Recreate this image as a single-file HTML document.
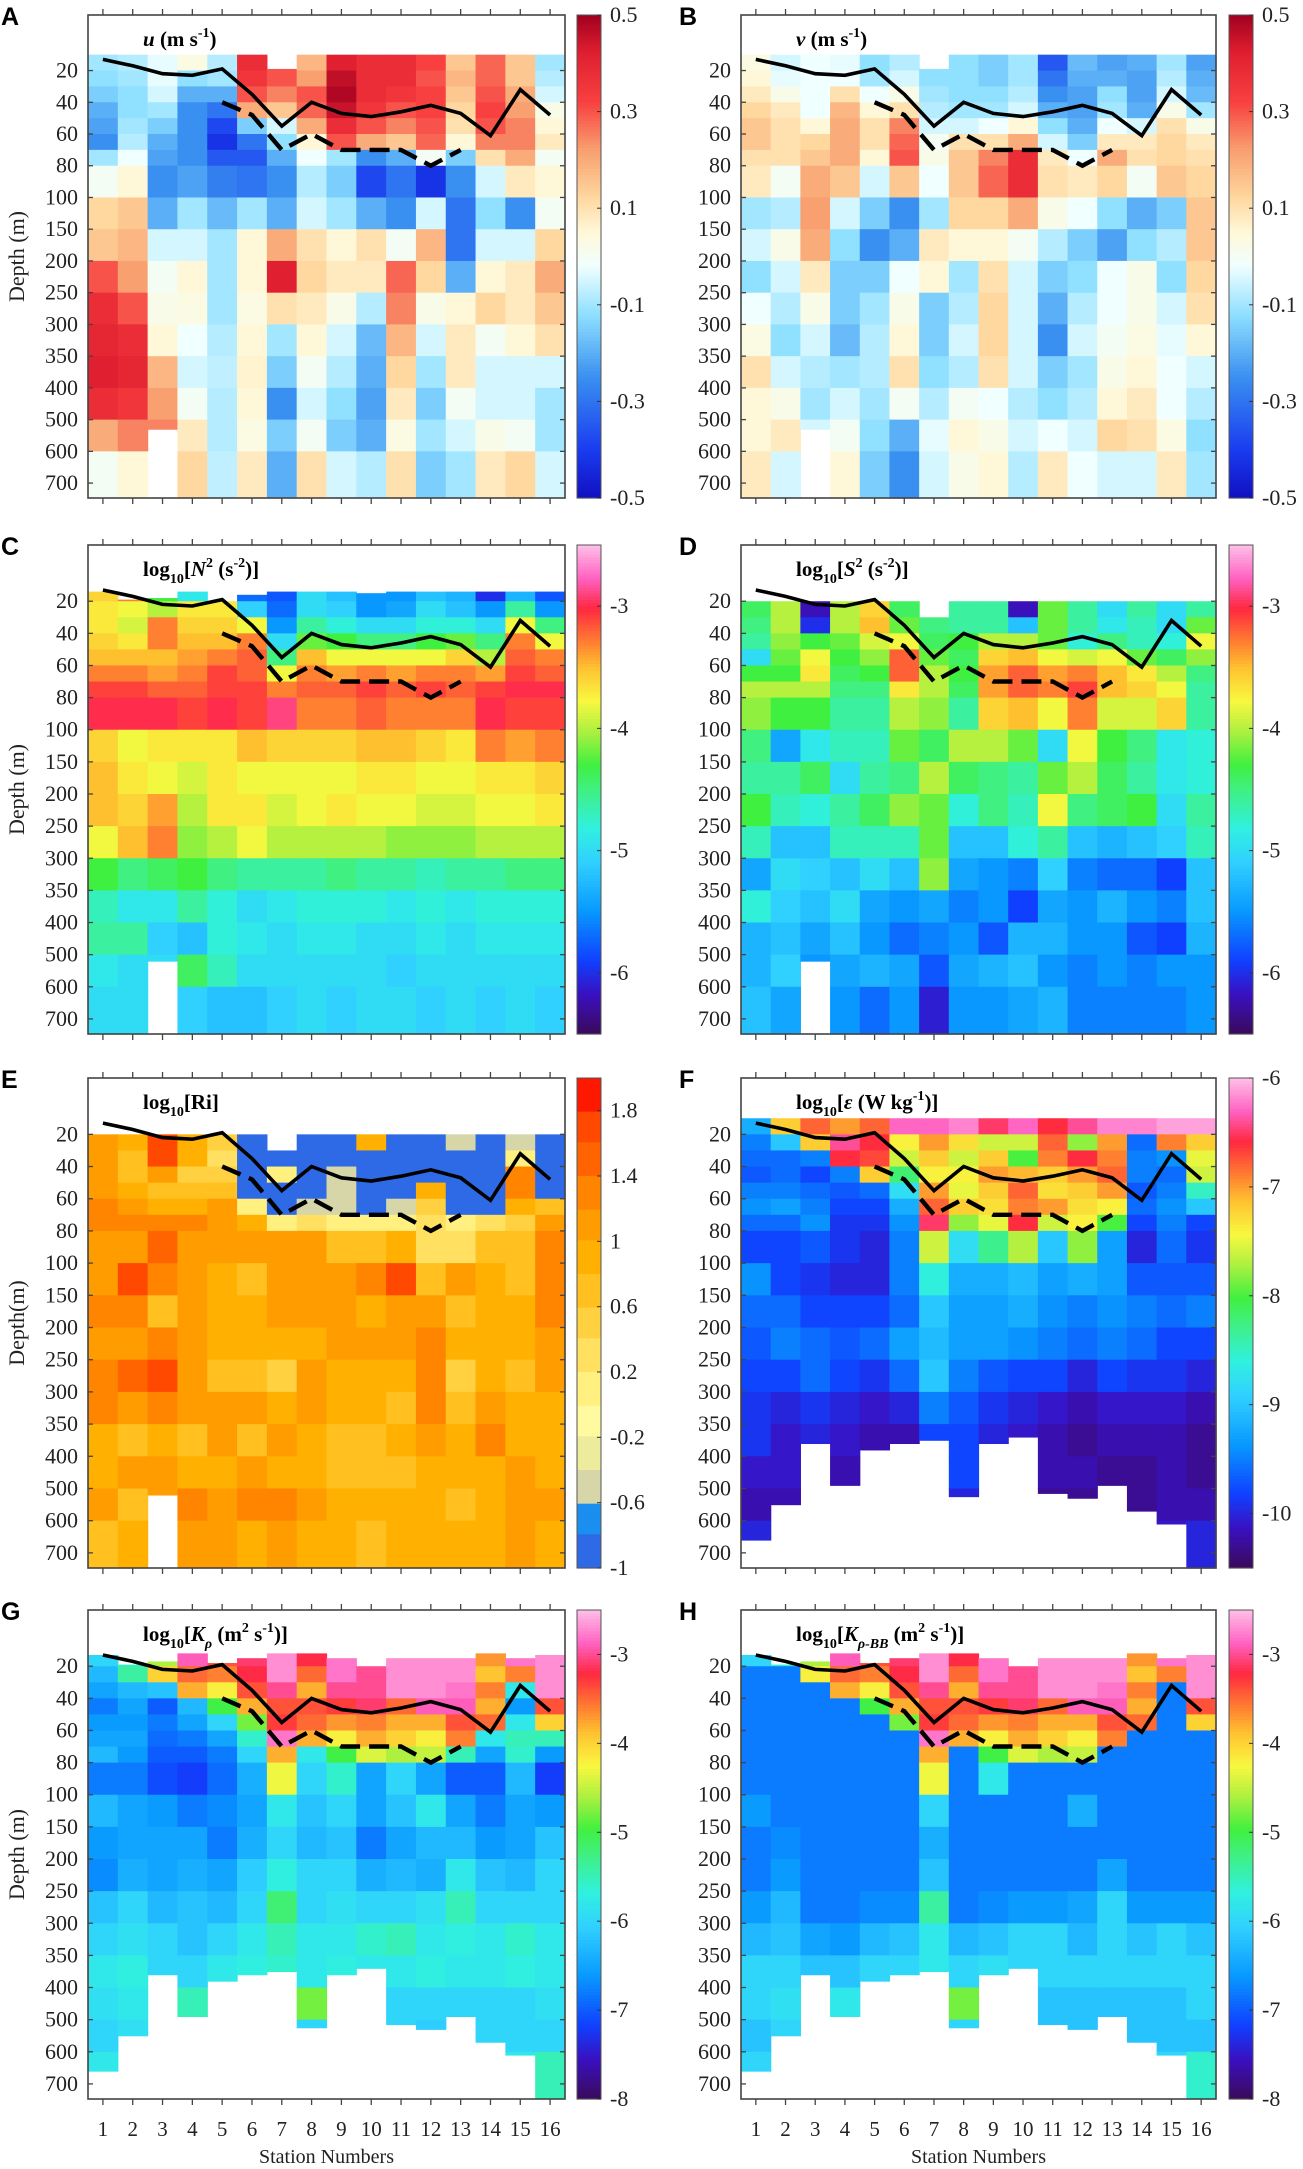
<!DOCTYPE html>
<html><head><meta charset="utf-8"><title>Station sections</title>
<style>html,body{margin:0;padding:0;background:#fff}svg{display:block}</style></head>
<body>
<svg id="fig" xmlns="http://www.w3.org/2000/svg" width="1303" height="2169" viewBox="0 0 1303 2169" font-family="'Liberation Serif', serif"></svg>
<script>
// ---------- data ----------
const stations = [1,2,3,4,5,6,7,8,9,10,11,12,13,14,15,16];
const depthLabels = [20,40,60,80,100,150,200,250,300,350,400,500,600,700];
const depthEdges = [10,20,30,40,50,60,70,80,100,150,200,250,300,350,400,500,600,747];
const mldDepth = [13,17,22,23,19,35,55,40,47,49,46,42,47,61,32,48];
const dashStations = [5,6,7,8,9,10,11,12,13];
const dashDepth = [40,48,70,60,70,70,70,80,70];

const topAB = [10,10,10,10,10,10,19,10,10,10,10,10,10,10,10,10];
const bottomAB = [747,747,530,747,747,747,747,747,747,747,747,747,747,747,747,747];
const topC = [14,19,18,14,20,16,14,14,14,15,14,14,14,14,14,14];
const topD = [20,20,20,20,20,20,29,20,20,20,20,20,20,20,20,20];
const topE = [20,20,20,20,20,20,30,20,20,20,20,20,20,20,20,20];
const bottomCDE = [747,747,520,747,747,747,747,747,747,747,747,747,747,747,747,747];
const topF = [10,10,10,10,10,10,10,10,10,10,10,10,10,10,10,10];
const topGH = [13,19,17,12,18,15,12,12,15,20,15,15,15,12,15,13];
const bottomFGH = [660,550,380,490,390,380,375,525,380,370,515,530,490,570,610,747];

const uData = [
[-0.1,-0.12,-0.15,-0.2,-0.22,-0.25,-0.1,0.0,0.12,0.15,0.3,0.38,0.4,0.42,0.38,0.2,0.0],
[-0.08,-0.1,-0.12,-0.12,-0.1,-0.08,-0.02,0.05,0.15,0.18,0.22,0.3,0.38,0.4,0.35,0.25,0.05],
[-0.03,-0.03,-0.05,-0.1,-0.15,-0.2,-0.22,-0.25,-0.2,-0.05,0.0,0.02,0.05,0.18,0.22,0.25,null],
[0.03,-0.12,-0.2,-0.25,-0.25,-0.25,-0.25,-0.22,-0.1,-0.05,0.05,0.03,-0.02,-0.05,0.0,0.08,0.12],
[-0.08,-0.1,-0.2,-0.3,-0.38,-0.42,-0.35,-0.28,-0.18,-0.1,-0.1,-0.1,-0.08,-0.07,-0.08,-0.08,-0.07],
[0.38,0.35,0.3,0.2,-0.15,-0.3,-0.35,-0.3,-0.1,0.05,0.05,0.03,0.05,0.06,0.05,0.03,0.08],
[0.3,0.3,0.25,0.15,-0.05,-0.12,-0.2,-0.25,-0.2,0.2,0.42,0.1,-0.1,-0.15,-0.25,-0.15,-0.2],
[0.18,0.22,0.3,0.28,0.2,0.05,-0.02,-0.08,-0.05,0.1,0.12,0.08,0.05,0.0,-0.05,0.0,0.1],
[0.42,0.46,0.48,0.45,0.38,0.3,-0.1,-0.15,-0.1,0.05,0.08,0.02,-0.05,-0.08,-0.12,-0.15,-0.05],
[0.38,0.38,0.38,0.35,0.3,0.2,-0.25,-0.38,-0.2,0.1,0.08,-0.08,-0.18,-0.2,-0.22,-0.2,-0.08],
[0.38,0.38,0.35,0.3,0.25,0.15,-0.2,-0.3,-0.25,0.0,0.28,0.25,0.18,0.12,0.08,0.03,0.1],
[0.32,0.3,0.32,0.32,0.3,0.28,0.0,-0.42,-0.05,0.18,0.12,0.02,-0.05,-0.1,-0.15,-0.1,-0.15],
[0.15,0.18,0.15,0.12,0.1,0.05,-0.15,-0.25,-0.3,-0.3,-0.2,0.05,0.08,0.08,0.0,-0.05,-0.1],
[0.28,0.28,0.3,0.32,0.3,0.25,0.1,-0.05,-0.12,-0.05,0.05,0.12,0.0,-0.05,-0.05,0.02,0.08],
[0.15,0.15,0.2,0.22,0.25,0.25,0.2,0.08,-0.25,-0.05,0.08,0.08,0.05,-0.05,-0.05,0.0,0.12],
[-0.1,-0.08,-0.05,0.02,0.05,0.08,0.0,0.05,0.0,0.12,0.2,0.15,0.1,-0.05,-0.1,-0.1,-0.05]];

const vData = [
[0.03,0.05,0.08,0.12,0.15,0.15,0.1,0.08,-0.1,-0.05,-0.12,-0.02,0.03,0.1,0.05,0.05,0.08],
[-0.05,-0.03,0.02,0.08,0.1,0.1,0.1,0.0,-0.08,0.02,-0.05,-0.08,-0.12,-0.05,0.02,0.08,-0.05],
[-0.02,-0.02,-0.02,-0.02,0.05,0.12,0.15,0.2,0.22,0.2,0.08,0.02,-0.05,-0.08,-0.1,-0.05,null],
[-0.03,-0.02,0.1,0.18,0.2,0.2,0.2,0.15,-0.05,-0.12,-0.15,-0.15,-0.18,-0.1,-0.05,0.0,0.05],
[-0.12,-0.1,-0.02,0.05,0.1,0.1,0.05,-0.05,-0.15,-0.25,-0.15,-0.1,-0.08,-0.08,-0.1,-0.12,-0.15],
[-0.08,-0.05,0.02,0.1,0.25,0.28,0.3,0.15,-0.25,-0.2,-0.02,0.02,0.05,0.1,0.0,-0.2,-0.25],
[-0.12,-0.12,-0.1,-0.08,-0.05,0.0,0.02,-0.02,-0.1,0.08,0.05,-0.15,-0.15,-0.12,-0.08,-0.03,-0.05],
[-0.12,-0.12,-0.12,-0.1,-0.05,0.1,0.15,0.15,0.12,0.05,-0.1,-0.08,-0.05,-0.08,0.0,0.05,0.02],
[-0.15,-0.15,-0.12,-0.1,-0.02,0.1,0.25,0.28,0.12,0.05,0.1,0.12,0.12,0.1,-0.02,0.02,0.05],
[-0.1,-0.1,-0.08,-0.05,0.05,0.2,0.38,0.38,0.2,0.0,-0.05,-0.05,-0.05,-0.05,-0.08,-0.05,-0.08],
[-0.35,-0.3,-0.25,-0.2,-0.12,-0.05,0.08,0.1,0.02,-0.08,-0.15,-0.2,-0.25,-0.15,-0.12,-0.02,0.08],
[-0.18,-0.2,-0.22,-0.22,-0.2,-0.15,-0.02,0.08,-0.02,-0.15,-0.12,-0.08,-0.05,-0.1,-0.08,-0.05,-0.02],
[-0.22,-0.2,-0.12,-0.1,-0.02,0.08,0.2,0.12,-0.12,-0.22,-0.02,-0.02,0.0,0.02,0.05,0.12,-0.05],
[-0.2,-0.22,-0.22,-0.2,-0.05,0.08,0.1,0.0,-0.2,-0.12,0.02,0.02,0.03,0.05,0.08,0.1,-0.05],
[-0.1,-0.08,-0.05,0.02,0.1,0.12,0.12,0.15,-0.15,-0.08,-0.12,-0.05,-0.03,-0.02,-0.02,0.03,0.08],
[-0.22,-0.2,-0.18,-0.1,0.02,0.08,0.1,0.12,0.15,0.15,0.12,0.1,0.05,-0.05,-0.08,-0.12,-0.1]];

const n2Data = [
[-3.6,-3.7,-3.7,-3.6,-3.5,-3.3,-3.1,-3.0,-3.6,-3.5,-3.5,-3.8,-4.3,-4.7,-4.6,-4.9,-5.0],
[-3.3,-3.8,-3.9,-3.7,-3.5,-3.3,-3.1,-3.0,-3.8,-3.7,-3.6,-3.5,-4.5,-4.9,-4.6,-5.0,-5.0],
[-4.3,-4.0,-3.3,-3.3,-3.5,-3.4,-3.2,-3.0,-3.7,-3.8,-3.4,-3.3,-4.4,-4.9,-5.1,-5.0,null],
[-4.9,-3.7,-3.6,-3.5,-3.4,-3.3,-3.2,-3.1,-3.7,-3.9,-4.0,-4.1,-4.3,-4.6,-5.2,-4.4,-5.1],
[-3.6,-3.7,-3.6,-3.5,-3.3,-3.1,-3.1,-3.0,-3.7,-3.7,-3.7,-4.0,-4.5,-4.8,-4.8,-4.7,-5.2],
[-5.7,-5.1,-3.8,-3.3,-3.2,-3.2,-3.1,-3.1,-3.5,-3.8,-3.7,-3.8,-4.6,-5.0,-4.9,-5.0,-5.2],
[-5.8,-5.7,-5.5,-5.0,-4.5,-3.8,-3.3,-2.9,-3.6,-3.8,-3.9,-4.0,-4.6,-4.9,-5.0,-5.0,-5.1],
[-5.0,-5.0,-4.6,-4.2,-3.5,-3.3,-3.2,-3.3,-3.6,-3.8,-3.8,-4.0,-4.6,-4.8,-4.9,-5.0,-5.0],
[-5.2,-5.1,-4.8,-4.3,-3.8,-3.4,-3.2,-3.3,-3.6,-3.8,-3.7,-4.0,-4.5,-4.8,-4.9,-5.0,-5.1],
[-5.5,-5.5,-5.0,-4.5,-3.8,-3.3,-3.1,-3.2,-3.5,-3.7,-3.8,-4.0,-4.6,-4.8,-5.0,-5.0,-5.0],
[-5.5,-5.4,-5.0,-4.5,-3.8,-3.4,-3.2,-3.3,-3.5,-3.7,-3.8,-4.1,-4.6,-4.9,-5.0,-5.1,-5.0],
[-5.2,-5.0,-4.8,-4.3,-3.8,-3.3,-3.1,-3.3,-3.6,-3.8,-3.9,-4.1,-4.7,-4.8,-4.9,-5.0,-5.1],
[-5.3,-5.2,-4.8,-4.2,-3.6,-3.3,-3.2,-3.3,-3.7,-3.8,-3.9,-4.1,-4.6,-4.9,-5.0,-5.0,-5.0],
[-6.0,-5.5,-5.0,-4.5,-4.0,-3.4,-3.1,-3.0,-3.3,-3.7,-3.8,-4.0,-4.6,-4.8,-4.9,-5.0,-5.1],
[-5.3,-4.6,-3.8,-3.3,-3.2,-3.1,-3.0,-3.1,-3.4,-3.7,-3.8,-4.0,-4.5,-4.8,-4.9,-5.0,-5.0],
[-5.8,-5.5,-4.5,-3.8,-3.3,-3.2,-3.0,-3.1,-3.3,-3.6,-3.7,-4.0,-4.5,-4.8,-4.9,-5.0,-5.1]];

const s2Data = [
[null,-4.4,-4.5,-4.6,-5.0,-4.3,-4.0,-4.1,-4.5,-4.6,-4.3,-4.7,-5.4,-4.8,-5.3,-5.3,-5.2],
[null,-4.0,-4.0,-4.1,-4.2,-4.3,-4.0,-4.3,-5.4,-4.6,-4.7,-5.2,-5.0,-5.1,-5.2,-5.1,-5.4],
[null,-6.2,-6.0,-4.3,-3.8,-3.7,-4.0,-4.3,-4.9,-4.4,-4.8,-5.2,-5.1,-5.2,-5.4,-5.5,null],
[null,-4.0,-4.0,-4.2,-4.3,-4.4,-4.5,-4.6,-4.7,-5.0,-4.6,-4.7,-5.2,-5.0,-5.2,-5.4,-5.5],
[null,-3.6,-3.5,-3.9,-4.1,-4.3,-4.5,-4.6,-4.7,-4.6,-4.4,-4.7,-5.0,-5.4,-5.5,-5.3,-5.7],
[null,-4.4,-4.2,-3.8,-3.2,-3.2,-3.7,-4.0,-4.2,-4.5,-4.1,-4.7,-5.2,-5.5,-5.7,-5.4,-5.5],
[null,null,-4.5,-4.4,-4.2,-4.0,-4.0,-4.1,-4.4,-4.0,-4.2,-4.2,-4.1,-5.4,-5.6,-5.8,-6.1],
[null,-4.6,-4.6,-4.3,-4.4,-4.3,-4.4,-4.6,-4.0,-4.4,-4.8,-5.2,-5.4,-5.6,-5.5,-5.4,-5.5],
[null,-4.6,-4.6,-4.0,-3.6,-3.4,-3.4,-3.6,-4.0,-4.5,-4.5,-5.2,-5.5,-5.5,-5.8,-5.3,-5.5],
[null,-6.2,-5.2,-4.0,-3.5,-3.2,-3.2,-3.5,-4.2,-4.6,-4.7,-4.8,-5.6,-5.9,-5.3,-5.2,-5.4],
[null,-4.2,-4.2,-4.2,-3.8,-3.4,-3.3,-3.8,-5.0,-4.2,-3.8,-4.6,-5.1,-5.4,-5.3,-5.5,-5.3],
[null,-4.6,-4.6,-4.8,-3.9,-3.3,-3.1,-3.3,-3.8,-4.0,-4.5,-5.2,-5.6,-5.5,-5.5,-5.6,-5.6],
[null,-5.0,-4.9,-4.5,-3.8,-3.5,-3.5,-3.9,-4.3,-4.4,-4.4,-5.3,-5.7,-5.3,-5.5,-5.5,-5.6],
[null,-4.6,-4.7,-4.7,-4.2,-3.7,-3.6,-3.9,-4.5,-4.6,-4.3,-5.2,-5.7,-5.5,-5.8,-5.6,-5.6],
[null,-5.0,-5.0,-4.8,-4.4,-4.0,-3.8,-3.6,-4.9,-4.9,-5.0,-5.1,-5.9,-5.6,-5.9,-5.5,-5.6],
[null,-4.6,-4.2,-3.8,-4.1,-4.5,-4.6,-4.6,-4.8,-4.8,-4.6,-4.7,-5.2,-5.2,-5.3,-5.5,-5.5]];

const riData = [
[null,1.0,1.0,1.1,1.1,1.2,1.2,1.1,1.0,1.2,1.0,1.2,1.4,0.8,0.9,1.0,0.7],
[null,0.8,0.6,0.7,0.9,1.1,1.2,1.0,1.6,1.2,1.1,1.5,1.1,0.6,1.0,0.7,0.8],
[null,1.8,1.8,1.0,0.6,0.9,1.3,1.5,1.2,0.6,1.3,1.6,1.3,0.8,1.1,1.1,null],
[null,0.9,0.8,0.5,0.7,0.9,1.2,1.0,1.0,1.1,1.0,1.1,1.0,0.7,0.9,1.4,1.0],
[null,0.5,0.4,0.5,0.7,1.0,1.1,1.1,0.9,0.9,0.9,0.6,1.0,1.0,0.9,1.0,1.0],
[null,-0.9,-0.9,-0.9,-0.9,0.2,0.8,1.0,0.7,0.8,0.9,0.7,1.0,0.6,1.1,1.2,0.9],
[null,null,-0.9,0.1,-0.9,-0.9,0.2,1.0,1.0,1.1,0.9,0.5,0.8,1.0,0.8,1.3,1.1],
[null,-0.9,-0.9,-0.9,-0.9,-0.5,0.3,1.0,1.0,1.0,0.9,1.0,1.0,0.8,0.9,1.0,0.9],
[null,-0.9,-0.9,-0.5,-0.5,-0.5,0.2,0.7,1.1,1.0,1.0,0.8,0.8,0.6,0.7,0.9,0.8],
[null,0.8,-0.9,-0.9,-0.9,-0.9,0.2,0.6,1.2,0.9,1.0,0.9,0.9,0.7,0.6,0.8,0.7],
[null,-0.9,-0.9,-0.9,-0.9,-0.5,0.2,0.8,1.6,1.0,1.1,0.9,0.7,0.8,0.7,0.9,0.9],
[null,-0.9,-0.9,-0.9,0.9,0.5,0.3,0.4,0.7,1.0,1.2,1.3,1.2,1.1,0.8,0.8,0.9],
[null,-0.5,-0.9,-0.9,-0.9,-0.9,0.1,0.3,1.1,0.7,0.8,0.5,0.6,0.9,0.8,0.7,0.8],
[null,-0.9,-0.9,-0.9,-0.9,-0.9,0.3,0.6,0.8,0.8,0.8,0.8,1.0,1.2,0.9,0.9,0.8],
[null,-0.5,0.2,1.3,1.3,0.8,0.5,0.6,0.7,0.9,0.8,0.6,0.8,0.9,1.0,1.0,1.1],
[null,-0.9,-0.9,-0.9,-0.9,0.7,1.0,1.2,1.3,1.2,1.1,1.0,0.8,0.8,0.9,1.0,0.8]];

const epsData = [
[-9.2,-9.5,-9.6,-9.7,-9.5,-9.4,-9.6,-9.8,-9.4,-9.6,-9.7,-9.8,-9.9,-9.9,-10.1,-10.2,-10.0],
[-7.2,-9.0,-9.6,-9.6,-9.5,-9.3,-9.6,-9.8,-9.8,-9.6,-9.5,-9.8,-10.0,-10.1,-10.1,-10.2,null],
[-6.8,-7.2,-9.5,-9.8,-9.6,-9.5,-9.4,-9.7,-9.9,-9.8,-9.6,-9.6,-9.9,-10.0,null,null,null],
[-7.0,-6.4,-6.6,-9.5,-9.7,-9.8,-9.9,-9.9,-10.0,-9.8,-9.7,-9.8,-10.0,-10.1,-10.2,null,null],
[-6.8,-6.6,-6.7,-7.2,-9.6,-9.8,-9.9,-10.0,-10.0,-9.8,-9.6,-9.9,-10.1,-10.2,null,null,null],
[-6.3,-7.4,-7.6,-8.2,-8.8,-9.2,-9.4,-9.5,-9.5,-9.6,-9.3,-9.6,-10.0,-10.2,null,null,null],
[-6.3,-7.0,-7.2,-7.4,-7.0,-6.8,-6.5,-7.6,-8.6,-9.0,-9.1,-9.0,-9.5,-9.8,null,null,null],
[-6.2,-7.3,-7.6,-7.4,-7.5,-7.2,-7.8,-8.8,-9.2,-9.3,-9.3,-9.5,-9.7,-9.8,-9.8,-10.0,null],
[-6.5,-7.6,-7.2,-7.0,-7.2,-7.3,-7.5,-8.3,-9.2,-9.3,-9.3,-9.7,-9.9,-10.0,null,null,null],
[-6.3,-7.6,-8.0,-7.1,-6.8,-6.9,-6.6,-7.7,-9.1,-9.2,-9.4,-9.8,-10.0,-10.1,null,null,null],
[-6.6,-6.8,-6.9,-7.2,-7.3,-7.0,-7.6,-9.0,-9.3,-9.4,-9.5,-9.8,-10.1,-10.2,-10.2,-10.3,null],
[-6.4,-7.8,-6.6,-7.0,-7.2,-7.3,-7.4,-7.8,-9.2,-9.5,-9.6,-10.0,-10.2,-10.3,-10.2,-10.3,null],
[-6.2,-7.0,-6.9,-6.8,-7.0,-7.4,-8.0,-9.3,-9.3,-9.4,-9.5,-9.8,-10.1,-10.2,-10.3,null,null],
[-6.2,-9.6,-9.5,-9.5,-9.7,-9.6,-9.8,-10.0,-9.7,-9.5,-9.6,-9.9,-10.1,-10.2,-10.3,-10.3,null],
[-6.1,-6.9,-9.4,-9.6,-9.5,-9.4,-9.5,-9.6,-9.7,-9.6,-9.8,-9.9,-10.1,-10.2,-10.2,-10.2,-10.1],
[-6.1,-7.2,-7.5,-7.6,-8.5,-9.0,-9.8,-9.9,-9.7,-9.5,-9.8,-10.0,-10.2,-10.3,-10.3,-10.2,-10.0]];

const krData = [
[-6.0,-6.3,-6.5,-6.8,-6.6,-6.5,-6.3,-6.8,-6.3,-6.6,-6.7,-6.2,-6.0,-5.8,-5.9,-6.0,-5.8],
[-5.6,-5.4,-6.3,-6.5,-6.6,-6.5,-6.6,-6.8,-6.5,-6.5,-6.4,-6.0,-5.9,-5.7,-5.8,-5.9,null],
[-4.6,-4.0,-6.2,-7.0,-6.8,-6.9,-7.0,-7.1,-6.6,-6.5,-6.5,-6.3,-6.0,-6.0,null,null,null],
[-2.9,-3.5,-3.8,-6.3,-6.5,-6.8,-7.0,-7.2,-6.8,-6.5,-6.4,-6.2,-6.2,-6.0,-5.5,null,null],
[-3.4,-3.6,-4.2,-5.0,-6.0,-6.5,-6.8,-6.9,-6.7,-6.8,-6.5,-6.3,-6.0,-5.8,null,null,null],
[-3.1,-3.2,-3.4,-3.8,-4.8,-5.6,-6.0,-6.4,-6.5,-6.4,-6.1,-6.0,-5.8,-5.7,null,null,null],
[-2.7,-2.7,-3.0,-3.4,-3.3,-2.8,-3.8,-4.3,-5.8,-6.0,-5.7,-5.2,-5.5,-5.6,null,null,null],
[-3.2,-3.5,-3.8,-3.4,-3.5,-3.8,-5.8,-6.0,-6.2,-6.3,-6.0,-6.0,-5.8,-5.8,-4.8,-6.0,null],
[-2.8,-2.8,-3.0,-3.3,-3.7,-4.2,-5.0,-5.6,-6.0,-6.2,-6.0,-5.9,-5.8,-5.7,null,null,null],
[-3.1,-3.0,-3.0,-3.1,-3.6,-3.8,-4.4,-6.5,-6.5,-6.8,-6.4,-6.0,-5.6,-5.8,null,null,null],
[-2.7,-2.7,-2.7,-3.5,-3.8,-4.0,-4.6,-6.0,-6.2,-6.5,-6.3,-6.0,-5.5,-5.8,-6.0,-6.0,null],
[-2.7,-2.7,-2.7,-2.9,-3.8,-4.2,-4.5,-6.5,-5.8,-6.3,-6.4,-5.9,-5.8,-5.7,-6.0,-6.1,null],
[-2.7,-2.7,-2.8,-2.9,-3.4,-3.6,-5.5,-7.0,-6.5,-6.3,-5.8,-5.5,-5.7,-5.8,-6.0,null,null],
[-3.7,-3.9,-3.6,-3.8,-3.5,-5.8,-6.5,-7.0,-6.8,-6.6,-6.2,-6.0,-5.8,-5.8,-6.0,-6.0,null],
[-2.8,-3.6,-5.8,-6.6,-5.8,-5.5,-5.6,-6.3,-6.5,-6.5,-6.3,-6.0,-5.6,-5.7,-6.0,-6.0,-5.8],
[-2.7,-2.7,-2.7,-3.4,-4.0,-5.5,-6.6,-7.2,-6.6,-6.2,-6.0,-6.0,-5.8,-5.8,-5.9,-6.0,-5.5]];

const kbbData = [
[-6.0,-6.8,-6.8,-6.8,-6.8,-6.8,-6.8,-6.8,-6.6,-6.8,-6.8,-6.6,-6.3,-6.0,-6.0,-6.2,-6.0],
[-5.6,-6.8,-6.8,-6.8,-6.8,-6.8,-6.8,-6.8,-6.8,-6.7,-6.6,-6.3,-6.2,-6.0,-5.9,-6.0,null],
[-4.6,-4.2,-6.8,-6.8,-6.8,-6.8,-6.8,-6.8,-6.8,-6.8,-6.8,-6.8,-6.5,-6.2,null,null,null],
[-2.9,-3.5,-3.8,-6.8,-6.8,-6.8,-6.8,-6.8,-6.8,-6.8,-6.8,-6.8,-6.6,-6.2,-5.8,null,null],
[-3.4,-3.6,-4.2,-5.0,-6.8,-6.8,-6.8,-6.8,-6.8,-6.8,-6.8,-6.7,-6.3,-6.0,null,null,null],
[-3.1,-3.2,-3.4,-3.8,-4.8,-6.8,-6.8,-6.8,-6.8,-6.8,-6.8,-6.7,-6.2,-6.0,null,null,null],
[-2.7,-2.7,-3.0,-3.4,-3.3,-2.8,-3.8,-4.3,-6.0,-6.4,-6.2,-5.4,-5.8,-5.8,null,null,null],
[-3.2,-3.5,-3.8,-3.4,-3.5,-3.8,-6.8,-6.8,-6.8,-6.8,-6.8,-6.8,-6.3,-6.0,-4.8,-6.0,null],
[-2.8,-2.8,-3.0,-3.3,-3.7,-4.2,-5.0,-5.8,-6.8,-6.8,-6.8,-6.7,-6.2,-5.9,null,null,null],
[-3.1,-3.0,-3.0,-3.1,-3.6,-3.8,-4.4,-6.8,-6.8,-6.8,-6.8,-6.6,-6.0,-6.0,null,null,null],
[-2.7,-2.7,-2.7,-3.5,-3.8,-4.0,-4.6,-6.8,-6.8,-6.8,-6.8,-6.6,-6.0,-6.0,-6.2,-6.2,null],
[-2.7,-2.7,-2.7,-2.9,-3.8,-4.2,-4.5,-6.8,-6.4,-6.8,-6.8,-6.5,-6.3,-6.0,-6.2,-6.2,null],
[-2.7,-2.7,-2.8,-2.9,-3.4,-3.6,-6.8,-6.8,-6.8,-6.8,-6.5,-6.0,-6.0,-6.0,-6.2,null,null],
[-3.7,-3.9,-3.6,-3.8,-3.5,-6.8,-6.8,-6.8,-6.8,-6.8,-6.8,-6.6,-6.2,-6.0,-6.2,-6.2,null],
[-2.8,-3.6,-6.8,-6.8,-6.8,-6.8,-6.8,-6.8,-6.8,-6.8,-6.8,-6.6,-6.0,-6.0,-6.2,-6.2,-6.0],
[-2.7,-2.7,-2.7,-3.4,-4.0,-6.8,-6.8,-6.8,-6.8,-6.8,-6.8,-6.6,-6.2,-6.0,-6.0,-6.2,-5.6]];

const ticksUV = [0.5,0.3,0.1,-0.1,-0.3,-0.5];
const ticksN2 = [-3,-4,-5,-6];
const ticksRi = [1.8,1.4,1,0.6,0.2,-0.2,-0.6,-1];
const ticksEps = [-6,-7,-8,-9,-10];
const ticksK = [-3,-4,-5,-6,-7,-8];

// ---------- colormaps ----------
const divStops = [[0,'#1010c0'],[0.1,'#1a3cf0'],[0.25,'#3a90f0'],[0.38,'#90e0ff'],[0.48,'#f0ffff'],[0.55,'#fff8d8'],[0.62,'#ffd8a0'],[0.72,'#f8a070'],[0.82,'#f84040'],[0.92,'#e02030'],[1,'#a00020']];
const jetStops = [[0,'#3a0a5a'],[0.08,'#3a10c0'],[0.15,'#1040ff'],[0.25,'#0898ff'],[0.35,'#30d0ff'],[0.42,'#30f0e0'],[0.5,'#40f080'],[0.55,'#40f040'],[0.62,'#b0f040'],[0.68,'#f8f840'],[0.75,'#ffc030'],[0.8,'#ff8030'],[0.87,'#ff2840'],[0.93,'#ff60c0'],[1,'#ffc0e8']];
const riColors = ['#2f6ae6','#1a8ff0','#d6d6a8','#ecec9c','#fffaa0','#fff080','#ffe060','#ffd040','#ffc020','#ffb000','#ff9c00','#ff8400','#ff6400','#ff4800','#ff1800'];
function hex(c){return [parseInt(c.slice(1,3),16),parseInt(c.slice(3,5),16),parseInt(c.slice(5,7),16)];}
function interp(stops,t){t=Math.max(0,Math.min(1,t));for(let i=1;i<stops.length;i++){if(t<=stops[i][0]){const a=stops[i-1],b=stops[i];const f=(t-a[0])/(b[0]-a[0]);const ca=hex(a[1]),cb=hex(b[1]);return 'rgb('+ca.map((v,k)=>Math.round(v+(cb[k]-v)*f)).join(',')+')';}}return stops[stops.length-1][1];}
function cmapFor(kind,lo,hi){
  if(kind==='ri') return v=>riColors[Math.max(0,Math.min(14,Math.floor((v-lo)/0.2)))];
  const st = kind==='div'?divStops:jetStops;
  return v=>interp(st,(v-lo)/(hi-lo));
}

// ---------- geometry ----------
const NS='http://www.w3.org/2000/svg';
const svg=document.getElementById('fig');
function mk(tag,attrs,parent){const e=document.createElementNS(NS,tag);for(const k in attrs)e.setAttribute(k,attrs[k]);(parent||svg).appendChild(e);return e;}
function depthIdx(d){
  if(d<=20) return (d-20)/20;
  if(d>=700) return 13+(d-700)/100;
  for(let i=0;i<depthLabels.length-1;i++){if(d<=depthLabels[i+1])return i+(d-depthLabels[i])/(depthLabels[i+1]-depthLabels[i]);}
  return 13;
}
function yOf(p,d){const step=p.h/15.22;return p.y+(1.75+depthIdx(d))*step;}
function xCenter(p,i){return p.x+(i+0.5)*p.w/16;}

const L={x:88,w:477,cb:577}, R={x:741,w:475,cb:1229};
const rows=[{y:15,h:483},{y:545,h:489},{y:1078,h:490},{y:1610,h:489}];

const panels=[
 {id:'a',letter:'A',col:L,row:0,data:uData,top:topAB,bottom:bottomAB,kind:'div',lo:-0.5,hi:0.5,ticks:ticksUV,ylab:'Depth (m)',title:[['u','i'],[' (m s',''],['-1','sup'],[')','']]},
 {id:'b',letter:'B',col:R,row:0,data:vData,top:topAB,bottom:bottomAB,kind:'div',lo:-0.5,hi:0.5,ticks:ticksUV,title:[['v','i'],[' (m s',''],['-1','sup'],[')','']]},
 {id:'c',letter:'C',col:L,row:1,data:n2Data,top:topC,bottom:bottomCDE,kind:'jet',lo:-6.5,hi:-2.5,ticks:ticksN2,ylab:'Depth (m)',title:[['log',''],['10','sub'],['[',''],['N','i'],['2','sup'],[' (s',''],['-2','sup'],[')]','']]},
 {id:'d',letter:'D',col:R,row:1,data:s2Data,top:topD,bottom:bottomCDE,kind:'jet',lo:-6.5,hi:-2.5,ticks:ticksN2,title:[['log',''],['10','sub'],['[',''],['S','i'],['2','sup'],[' (s',''],['-2','sup'],[')]','']]},
 {id:'e',letter:'E',col:L,row:2,data:riData,top:topE,bottom:bottomCDE,kind:'ri',lo:-1,hi:2,ticks:ticksRi,ylab:'Depth(m)',title:[['log',''],['10','sub'],['[Ri]','']]},
 {id:'f',letter:'F',col:R,row:2,data:epsData,top:topF,bottom:bottomFGH,kind:'jet',lo:-10.5,hi:-6,ticks:ticksEps,title:[['log',''],['10','sub'],['[',''],['ε','i'],[' (W kg',''],['-1','sup'],[')]','']]},
 {id:'g',letter:'G',col:L,row:3,data:krData,top:topGH,bottom:bottomFGH,kind:'jet',lo:-8,hi:-2.5,ticks:ticksK,ylab:'Depth (m)',xlab:true,title:[['log',''],['10','sub'],['[',''],['K','i'],['ρ','isub'],['  (m',''],['2','sup'],[' s',''],['-1','sup'],[')]','']]},
 {id:'h',letter:'H',col:R,row:3,data:kbbData,top:topGH,bottom:bottomFGH,kind:'jet',lo:-8,hi:-2.5,ticks:ticksK,xlab:true,title:[['log',''],['10','sub'],['[',''],['K','i'],['ρ-BB','isub'],[' (m',''],['2','sup'],[' s',''],['-1','sup'],[')]','']]}
];

panels.forEach(P=>{
  const p={x:P.col.x,w:P.col.w,y:rows[P.row].y,h:rows[P.row].h};
  const g=mk('g',{});
  
  
  const cm=cmapFor(P.kind,P.lo,P.hi);
  const cw=p.w/16;
  const hm=mk('g',{},g);
  
  
  for(let s=0;s<16;s++){
    for(let b=0;b<depthEdges.length-1;b++){
      const v=P.data[s][b];
      if(v===null||v===undefined) continue;
      const d0=Math.max(depthEdges[b],P.top[s]), d1=Math.min(depthEdges[b+1],P.bottom[s]);
      if(d1<=d0) continue;
      const y0=yOf(p,d0), y1=yOf(p,d1);
      const r=mk('rect',{x:(p.x+s*cw).toFixed(2),y:y0.toFixed(2),width:(cw+0.6).toFixed(2),height:(y1-y0+0.6).toFixed(2),fill:cm(v)},hm);
      
      
    }
  }
  let dpts=mldDepth.map((d,i)=>xCenter(p,i).toFixed(1)+','+yOf(p,d).toFixed(1)).join(' ');
  const ml=mk('polyline',{points:dpts,fill:'none',stroke:'#000','stroke-width':3.6,'stroke-linejoin':'miter'},g);
  
  
  let dd=dashStations.map((st,i)=>xCenter(p,st-1).toFixed(1)+','+yOf(p,dashDepth[i]).toFixed(1)).join(' ');
  const dl=mk('polyline',{points:dd,fill:'none',stroke:'#000','stroke-width':4.4,'stroke-dasharray':'20 9'},g);
  
  
  const fr=mk('rect',{x:p.x,y:p.y,width:p.w,height:p.h,fill:'none',stroke:'#444','stroke-width':1.6},g);
  
  
  for(let i=0;i<16;i++){
    const x=xCenter(p,i);
    mk('line',{x1:x,y1:p.y,x2:x,y2:p.y-6,stroke:'#444','stroke-width':1.3},g);
    mk('line',{x1:x,y1:p.y+p.h,x2:x,y2:p.y+p.h+6,stroke:'#444','stroke-width':1.3},g);
    if(P.xlab){
      const t=mk('text',{x:x,y:2136,'font-size':21,'text-anchor':'middle',fill:'#222'},g);
      t.textContent=stations[i];
      
      
    }
  }
  depthLabels.forEach(d=>{
    const y=yOf(p,d);
    mk('line',{x1:p.x,y1:y,x2:p.x+5,y2:y,stroke:'#444','stroke-width':1.3},g);
    mk('line',{x1:p.x+p.w,y1:y,x2:p.x+p.w-5,y2:y,stroke:'#444','stroke-width':1.3},g);
    const t=mk('text',{x:p.x-10,y:y+7,'font-size':22,'text-anchor':'end',fill:'#222'},g);
    t.textContent=d;
    
    
  });
  if(P.ylab){
    const cy=p.y+p.h/2;
    const t=mk('text',{x:24,y:cy,'font-size':22,'text-anchor':'middle',transform:'rotate(-90 24 '+cy+')',fill:'#222'},g);
    t.textContent=P.ylab;
    
    
  }
  if(P.xlab){
    const t=mk('text',{x:p.x+p.w/2,y:2163,'font-size':20,'text-anchor':'middle',fill:'#222'},g);
    t.textContent='Station Numbers';
    
    
  }
  const lt=mk('text',{x:P.col===L?1:679,y:p.y+10,'font-size':25,'font-weight':'bold','font-family':"'Liberation Sans', sans-serif",fill:'#000'},g);
  lt.textContent=P.letter;
  
  
  const tt=mk('text',{x:p.x+55,y:p.y+31,'font-size':21,'font-weight':'bold',fill:'#000'},g);
  
  
  let shift=0;
  P.title.forEach(([s,k])=>{
    const sp=mk('tspan',{},tt);
    let target=0;
    if(k==='sup'){target=-9;sp.setAttribute('font-size',14);}
    else if(k==='sub'||k==='isub'){target=7;sp.setAttribute('font-size',14);}
    if(k==='i'||k==='isub') sp.setAttribute('font-style','italic');
    sp.setAttribute('dy',target-shift); shift=target;
    sp.textContent=s;
  });
  const cb=mk('g',{},g);
  
  
  const cx=P.col.cb, cwid=24, N=160;
  for(let i=0;i<N;i++){
    const v=P.hi-(P.hi-P.lo)*(i+0.5)/N;
    mk('rect',{x:cx,y:(p.y+i*p.h/N).toFixed(2),width:cwid,height:(p.h/N+0.6).toFixed(2),fill:cm(v)},cb);
  }
  mk('rect',{x:cx,y:p.y,width:cwid,height:p.h,fill:'none',stroke:'#555','stroke-width':1},cb);
  P.ticks.forEach(v=>{
    const y=p.y+(P.hi-v)/(P.hi-P.lo)*p.h;
    mk('line',{x1:cx+cwid,y1:y,x2:cx+cwid-4,y2:y,stroke:'#333','stroke-width':1},cb);
    const t=mk('text',{x:cx+cwid+9,y:y+7,'font-size':22,fill:'#222'},cb);
    t.textContent=v;
    
    
  });
});
</script>
</body></html>
